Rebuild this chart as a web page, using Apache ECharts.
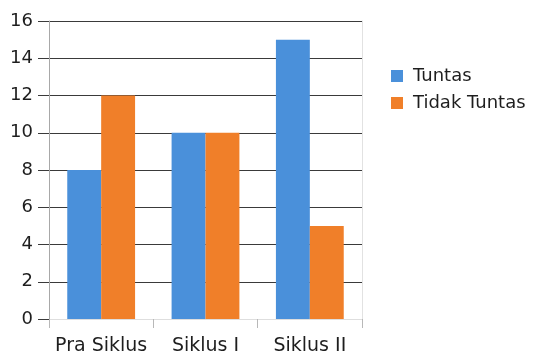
<!DOCTYPE html>
<html>
<head>
<meta charset="utf-8">
<script src="https://cdn.jsdelivr.net/npm/echarts@6/dist/echarts.min.js"></script>
<style>
  html, body { margin: 0; padding: 0; background: #fff; }
  #chart { width: 545px; height: 356px; }
</style>
</head>
<body>
<div id="chart"></div>
<script>
// Jumlah siswa tuntas / tidak tuntas per siklus
const categories = ['Pra Siklus', 'Siklus I', 'Siklus II'];
const tuntas = [8, 10, 15];
const tidakTuntas = [12, 10, 5];
const seriesNames = ['Tuntas', 'Tidak Tuntas'];

const FONT = '"DejaVu Sans", Verdana, sans-serif';
const TEXT = '#1e1e1e';
const gridDark = '#3a3a3a';

// first split line (value 0) stays faint, the rest are dark
const splitColors = ['#dcdcdc', gridDark, gridDark, gridDark, gridDark, gridDark, gridDark, gridDark, gridDark];

const chart = echarts.init(document.getElementById('chart'), null, { renderer: 'canvas' });
chart.setOption({
  animation: false,
  backgroundColor: '#ffffff',
  color: ['#4a90da', '#f07f29'],
  grid: { left: 49, top: 21, width: 313, height: 300, containLabel: false },
  legend: {
    orient: 'vertical',
    left: 391,
    top: 66,
    padding: 0,
    itemWidth: 12,
    itemHeight: 12,
    itemGap: 7,
    icon: 'rect',
    data: seriesNames,
    textStyle: { fontFamily: FONT, fontSize: 18, color: TEXT, lineHeight: 20, padding: [0, 0, 0, 5] }
  },
  xAxis: {
    type: 'category',
    data: categories,
    axisLine: { show: true, lineStyle: { color: '#dedede', width: 1 } },
    axisTick: { show: true, alignWithLabel: false, length: 9, lineStyle: { color: '#b8b8b8' } },
    axisLabel: { fontFamily: FONT, fontSize: 19, color: TEXT, margin: 18, interval: 0, hideOverlap: false },
    splitLine: { show: false }
  },
  yAxis: [
    {
      type: 'value',
      min: 0,
      max: 16,
      interval: 2,
      axisLine: { show: true, lineStyle: { color: '#a8a8a8', width: 1 } },
      axisTick: { show: true, length: 11, lineStyle: { color: gridDark } },
      axisLabel: { fontFamily: FONT, fontSize: 18, color: TEXT, margin: 16 },
      splitLine: { show: true, lineStyle: { color: splitColors, width: 1.2 } }
    },
    {
      type: 'value',
      min: 0,
      max: 16,
      interval: 2,
      position: 'right',
      axisLine: { show: true, lineStyle: { color: '#e2e2e2', width: 1 } },
      axisTick: { show: false },
      axisLabel: { show: false },
      splitLine: { show: false }
    }
  ],
  series: [
    {
      name: seriesNames[0],
      type: 'bar',
      data: tuntas,
      barGap: '0%',
      barCategoryGap: '35%'
    },
    {
      name: seriesNames[1],
      type: 'bar',
      data: tidakTuntas,
      barGap: '0%',
      barCategoryGap: '35%'
    }
  ]
});
</script>
</body>
</html>
